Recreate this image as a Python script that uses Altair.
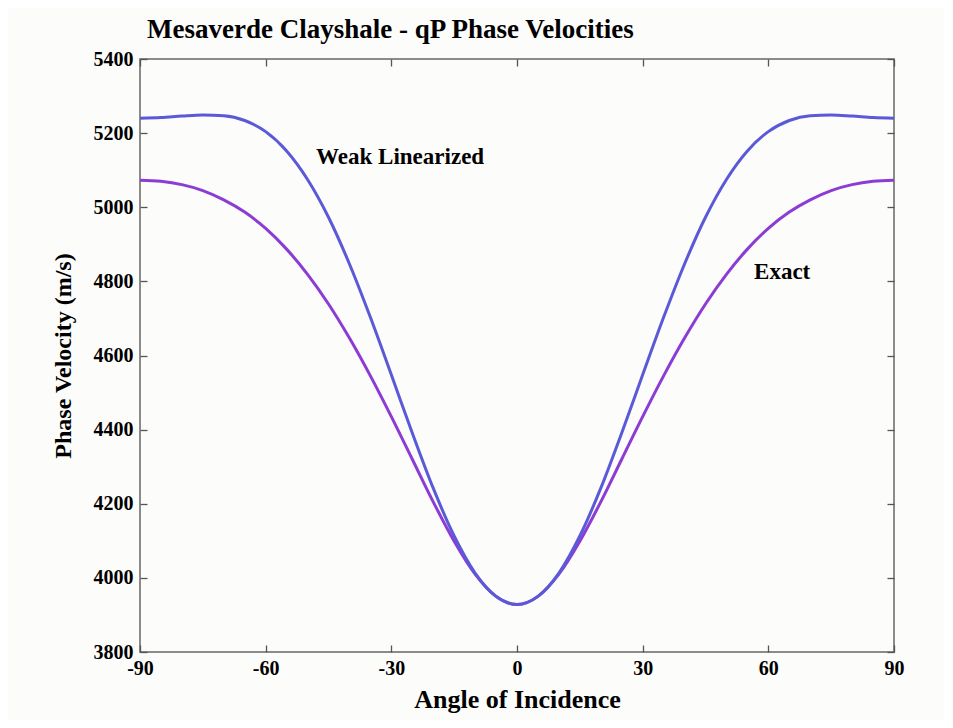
import altair as alt
import pandas as pd

# Angle of incidence (degrees)
angles = [-90, -85, -80, -75, -70, -65, -60, -55, -50, -45, -40, -35, -30, -25, -20, -15, -10, -5,
          0, 5, 10, 15, 20, 25, 30, 35, 40, 45, 50, 55, 60, 65, 70, 75, 80, 85, 90]

# Exact qP phase velocity (m/s)
exact = [5073, 5070, 5061, 5045, 5020, 4987, 4943, 4887, 4819, 4739, 4647, 4545, 4435, 4320, 4205, 4099, 4010, 3950,
         3928, 3950, 4010, 4099, 4205, 4320, 4435, 4545, 4647, 4739, 4819, 4887, 4943, 4987, 5020, 5045, 5061, 5070, 5073]

# Weak (linearized) anisotropy approximation (m/s)
weak = [5240, 5242, 5246, 5249, 5247, 5234, 5204, 5152, 5075, 4973, 4847, 4703, 4548, 4391, 4242, 4113, 4013, 3950,
        3928, 3950, 4013, 4113, 4242, 4391, 4548, 4703, 4847, 4973, 5075, 5152, 5204, 5234, 5247, 5249, 5246, 5242, 5240]

x_ticks = [-90, -60, -30, 0, 30, 60, 90]
y_ticks = [3800, 4000, 4200, 4400, 4600, 4800, 5000, 5200, 5400]

label_text = ["Weak Linearized", "Exact"]
label_angle = [-27.9, 63.3]
label_vel = [5136, 4825]

FONT = "Liberation Serif"
BLUE = "#5a5ad8"
PURPLE = "#8c3cd4"

df_exact = pd.DataFrame({"angle": angles, "velocity": exact})
df_weak = pd.DataFrame({"angle": angles, "velocity": weak})
df_lab = pd.DataFrame({"label": label_text, "angle": label_angle, "velocity": label_vel})

xscale = alt.Scale(domain=[-90, 90], nice=False, zero=False)
yscale = alt.Scale(domain=[3800, 5400], nice=False, zero=False)

common_axis = dict(offset=-7, tickSize=7, domain=False, grid=False, tickColor="#555555", tickWidth=1.3,
                   labelFont=FONT, labelFontSize=20, labelFontWeight="bold", labelColor="black",
                   titleFont=FONT, titleFontWeight="bold", titleColor="black")

hyphen_expr = "datum.value < 0 ? '-' + abs(datum.value) : '' + datum.value"

x_main = alt.X("angle:Q", scale=xscale,
               axis=alt.Axis(values=x_ticks, title="Angle of Incidence", labelPadding=6, labelFlush=False,
                             labelExpr=hyphen_expr,
                             titleFontSize=26, titleBaseline="alphabetic", titleY=62, titleAlign="center",
                             **common_axis))
y_main = alt.Y("velocity:Q", scale=yscale,
               axis=alt.Axis(values=y_ticks, title="Phase Velocity (m/s)", labelPadding=7, labelFlush=False,
                             format="d", titleFontSize=24, titleBaseline="alphabetic", titleX=-77,
                             titleAngle=270, titleAlign="center", **common_axis))

exact_line = alt.Chart(df_exact).mark_line(strokeWidth=3, color=PURPLE, interpolate="monotone").encode(
    x=x_main, y=y_main)

ghost = alt.Chart(df_exact).mark_line(opacity=0).encode(
    x=alt.X("angle:Q", scale=xscale,
            axis=alt.Axis(orient="top", values=x_ticks, labels=False, title=None, offset=-7, tickSize=7,
                          domain=False, grid=False, tickColor="#555555", tickWidth=1.3)),
    y=alt.Y("velocity:Q", scale=yscale,
            axis=alt.Axis(orient="right", values=y_ticks, labels=False, title=None, offset=-7, tickSize=7,
                          domain=False, grid=False, tickColor="#555555", tickWidth=1.3)))

weak_line = alt.Chart(df_weak).mark_line(strokeWidth=3, color=BLUE, interpolate="monotone").encode(
    x=alt.X("angle:Q", scale=xscale, axis=None),
    y=alt.Y("velocity:Q", scale=yscale, axis=None))

labels = alt.Chart(df_lab).mark_text(font=FONT, fontSize=23, fontWeight="bold", color="black",
                                     baseline="middle", align="center").encode(
    x=alt.X("angle:Q", scale=xscale, axis=None),
    y=alt.Y("velocity:Q", scale=yscale, axis=None),
    text="label:N")

chart = alt.layer(exact_line, ghost, weak_line, labels).resolve_axis(
    x="independent", y="independent"
).properties(
    width=754, height=593,
    autosize=alt.AutoSizeParams(type="none"),
    padding={"left": 132, "top": 51, "right": 50, "bottom": 68},
    background="#fcfcfa",
    title=alt.Title("Mesaverde Clayshale - qP Phase Velocities", anchor="start", dx=96, offset=5,
                    font=FONT, fontSize=27, fontWeight="bold", color="black"),
).configure_view(stroke="#666666", strokeWidth=1.5)

chart.save("out.html", embed_options={"renderer": "svg", "actions": False})
